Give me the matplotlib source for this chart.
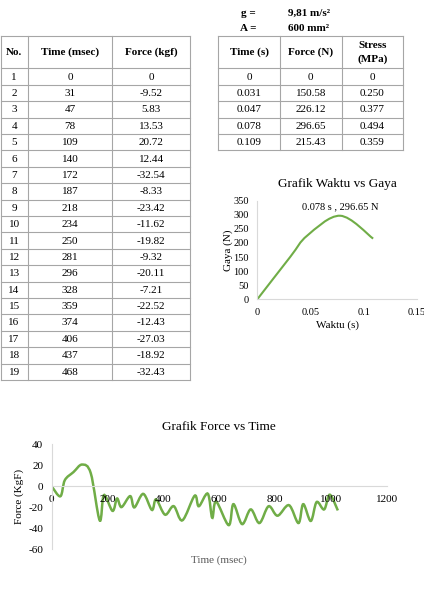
import numpy as np
import matplotlib
matplotlib.use("Agg")
import matplotlib.pyplot as plt
from matplotlib.path import Path
from matplotlib.patches import PathPatch

plt.rcParams['font.family'] = ['Liberation Serif', 'DejaVu Serif']
plt.rcParams['axes.unicode_minus'] = False

# table 1 data
row_no = list(range(1, 20))
time_ms = [0, 31, 47, 78, 109, 140, 172, 187, 218, 234, 250, 281, 296, 328, 359, 374, 406, 437, 468]
force_kgf = [0, -9.52, 5.83, 13.53, 20.72, 12.44, -32.54, -8.33, -23.42, -11.62, -19.82,
             -9.32, -20.11, -7.21, -22.52, -12.43, -27.03, -18.92, -32.43]

# rest of the force curve
more_time = [512, 527, 559, 575, 589, 634, 651, 682, 713, 744, 777, 809, 850, 884, 901,
             928, 949, 976, 996, 1025]
more_force = [-9, -19, -7, -30, -14.5, -37, -17, -36, -22, -35, -19, -28, -18, -35, -17,
              -33, -15, -22, -8, -23]

# table 2 data
time_s = [0, 0.031, 0.047, 0.078, 0.109]
force_n = [0, 150.58, 226.12, 296.65, 215.43]
stress = [0, 0.250, 0.377, 0.494, 0.359]
time_s_lbl = ['0', '0.031', '0.047', '0.078', '0.109']
force_n_lbl = ['0', '150.58', '226.12', '296.65', '215.43']
stress_lbl = ['0', '0.250', '0.377', '0.494', '0.359']

GREEN = '#70ad47'
GRID = '#a6a6a6'
AXC = '#d9d9d9'

W, H = 424, 594
fig = plt.figure(figsize=(W / 100, H / 100), dpi=100)

# overlay in pixel coords for the tables
tab = fig.add_axes([0, 0, 1, 1])
tab.set_xlim(0, W)
tab.set_ylim(H, 0)
tab.axis('off')


def draw_table(ax, cols, top, head_h, row_h, nrows, header, rows, fs=8):
    bottom = top + head_h + row_h * nrows
    for x in cols:
        ax.plot([x, x], [top, bottom], color=GRID, lw=0.8)
    ax.plot([cols[0], cols[-1]], [top, top], color=GRID, lw=0.8)
    y = top + head_h
    for i in range(nrows + 1):
        ax.plot([cols[0], cols[-1]], [y + i * row_h, y + i * row_h], color=GRID, lw=0.8)
    for j, h in enumerate(header):
        cx = (cols[j] + cols[j + 1]) / 2
        ax.text(cx, top + head_h / 2, h, ha='center', va='center', fontsize=fs,
                fontweight='bold', linespacing=1.6)
    for i, r in enumerate(rows):
        cy = y + i * row_h + row_h / 2
        for j, v in enumerate(r):
            cx = (cols[j] + cols[j + 1]) / 2
            ax.text(cx, cy + 0.5, v, ha='center', va='center', fontsize=fs)


rows1 = [[str(n), str(t), ('%g' % f if f == 0 else '%.2f' % f)] for n, t, f in zip(row_no, time_ms, force_kgf)]
draw_table(tab, [0.5, 27.7, 112.3, 190], 36, 32.3, 16.4, 19,
           ['No.', 'Time (msec)', 'Force (kgf)'], rows1)

rows2 = [[a, b, c] for a, b, c in zip(time_s_lbl, force_n_lbl, stress_lbl)]
draw_table(tab, [218.3, 280, 341.7, 403.3], 36, 32.3, 16.4, 5,
           ['Time (s)', 'Force (N)', 'Stress\n(MPa)'], rows2)

tab.text(248.3, 13.3, 'g =', ha='center', va='center', fontsize=8, fontweight='bold')
tab.text(288.3, 13.3, '9,81 m/s²', ha='left', va='center', fontsize=8, fontweight='bold')
tab.text(248.3, 28.3, 'A =', ha='center', va='center', fontsize=8, fontweight='bold')
tab.text(288.3, 28.3, '600 mm²', ha='left', va='center', fontsize=8, fontweight='bold')


def smooth_path(xs, ys):
    pts = np.column_stack([xs, ys]).astype(float)
    p = np.vstack([pts[0], pts, pts[-1]])
    verts = [pts[0]]
    codes = [Path.MOVETO]
    for i in range(len(pts) - 1):
        p0, p1, p2, p3 = p[i], p[i + 1], p[i + 2], p[i + 3]
        verts += [p1 + (p2 - p0) / 6, p2 - (p3 - p1) / 6, p2]
        codes += [Path.CURVE4] * 3
    return Path(verts, codes)


def style(ax):
    for s in ['top', 'right']:
        ax.spines[s].set_visible(False)
    ax.spines['left'].set_color(AXC)
    ax.spines['bottom'].set_color(AXC)
    ax.tick_params(length=0, labelsize=7.5)


# chart: Waktu vs Gaya
ax2 = fig.add_axes([257.3 / W, 1 - 299.3 / H, (416.7 - 257.3) / W, (299.3 - 200.7) / H])
style(ax2)
ax2.set_xlim(0, 0.15)
ax2.set_ylim(0, 350)
ax2.set_xticks([0, 0.05, 0.1, 0.15])
ax2.set_xticklabels(['0', '0.05', '0.1', '0.15'])
ax2.set_yticks(range(0, 351, 50))
ax2.tick_params(axis='x', pad=6)
ax2.tick_params(axis='y', pad=6)
ax2.add_patch(PathPatch(smooth_path(time_s, force_n), fill=False, edgecolor=GREEN, lw=1.5))
ax2.set_title('Grafik Waktu vs Gaya', fontsize=9.5, pad=10)
ax2.set_xlabel('Waktu (s)', fontsize=8, labelpad=3)
ax2.set_ylabel('Gaya (N)', fontsize=8, labelpad=0)
ax2.annotate('%g s , %g N' % (time_s[3], force_n[3]), (time_s[3], force_n[3]),
             xytext=(0, 3), textcoords='offset points', ha='center', va='bottom', fontsize=7.5)

# chart: Force vs Time
ax3 = fig.add_axes([51.7 / W, 1 - 549.3 / H, (386.7 - 51.7) / W, (549.3 - 444.3) / H])
style(ax3)
ax3.spines['bottom'].set_position(('data', 0))
ax3.set_xlim(0, 1200)
ax3.set_ylim(-60, 40)
ax3.set_xticks(range(0, 1201, 200))
ax3.set_yticks(range(-60, 41, 20))
ax3.tick_params(labelsize=8, pad=6)
all_t = time_ms + more_time
all_f = force_kgf + more_force
ax3.add_patch(PathPatch(smooth_path(all_t, all_f), fill=False, edgecolor=GREEN, lw=1.8))
ax3.set_title('Grafik Force vs Time', fontsize=9.5, pad=10)
ax3.set_xlabel('Time (msec)', fontsize=8, color='#595959', labelpad=1)
ax3.xaxis.set_label_coords(0.5, -0.06)
ax3.set_ylabel('Force (KgF)', fontsize=8, labelpad=3)

fig.savefig('out.png', dpi=100)
